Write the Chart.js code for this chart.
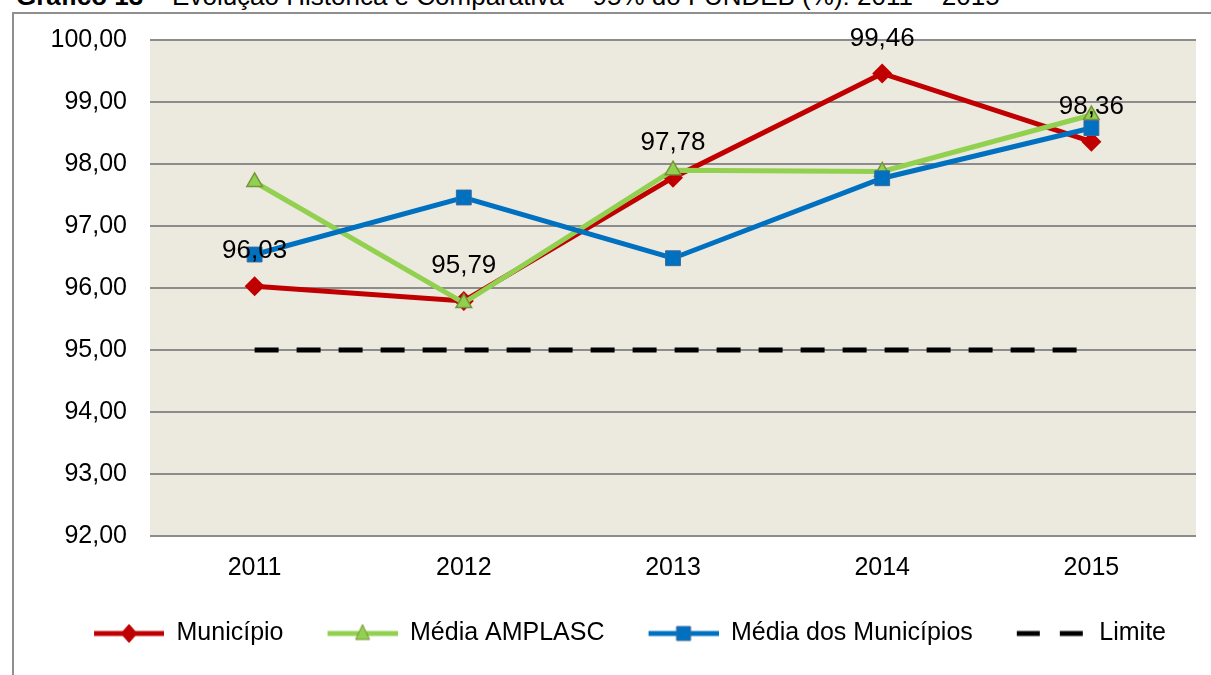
<!DOCTYPE html>
<html lang="pt-BR">
<head>
<meta charset="utf-8">
<title>Evolução Histórica e Comparativa – 95% do FUNDEB</title>
<script src="https://cdn.jsdelivr.net/npm/chart.js@4.4.1/dist/chart.umd.min.js"></script>
<style>
    html, body {
        margin: 0;
        padding: 0;
        background: #ffffff;
        overflow: hidden;
    }
    #page {
        position: relative;
        width: 1211px;
        height: 675px;
        overflow: hidden;
        font-family: "Liberation Sans", Arial, sans-serif;
    }
    #titulo {
        position: absolute;
        left: 16px;
        top: -19px;
        font-size: 26px;
        color: #000;
        white-space: nowrap;
    }
    #titulo b {
        font-weight: bold;
    }
    #moldura {
        position: absolute;
        left: 12px;
        top: 12px;
        width: 1400px;
        height: 900px;
        border: 2px solid #8f8f8f;
    }
    #grafico {
        position: absolute;
        left: 0;
        top: 0;
        width: 1211px;
        height: 675px;
    }
</style>
</head>
<body>
<div id="page">
    <div id="titulo"><b>Gráfico 13</b> – Evolução Histórica e Comparativa – 95% do FUNDEB (%): 2011 – 2015</div>
    <div id="moldura"></div>
    <div id="grafico"><canvas id="fundebChart"></canvas></div>
</div>

<script>
const anos = ["2011", "2012", "2013", "2014", "2015"];
const municipio = [96.03, 95.79, 97.78, 99.46, 98.36];
const mediaAmplasc = [97.71, 95.76, 97.90, 97.88, 98.79];
const mediaMunicipios = [96.54, 97.46, 96.48, 97.77, 98.58];
const limite = [95, 95, 95, 95, 95];
const eixoY = { min: 92, max: 100, passo: 1 };

const fonte = "'Liberation Sans', Arial, sans-serif";
const larguraAmostra = 84;

function formataBR(v) {
    return v.toFixed(2).replace(".", ",");
}

// little line+marker swatches for the legend (blank strip on the left keeps items apart)
function amostraLegenda(cor, marcador, borda, tracejado) {
    const c = document.createElement("canvas");
    c.width = larguraAmostra;
    c.height = 24;
    const g = c.getContext("2d");
    const x0 = larguraAmostra - 70;
    g.strokeStyle = cor;
    g.lineWidth = 5;
    if (tracejado) {
        g.setLineDash([23, 20]);
    }
    g.beginPath();
    g.moveTo(x0, 12);
    g.lineTo(larguraAmostra, 12);
    g.stroke();
    g.setLineDash([]);

    const cx = x0 + 35, cy = 12;
    g.fillStyle = cor;
    g.strokeStyle = borda || cor;
    g.lineWidth = 1;
    g.beginPath();
    if (marcador === "diamante") {
        g.moveTo(cx, cy - 9);
        g.lineTo(cx + 8, cy);
        g.lineTo(cx, cy + 9);
        g.lineTo(cx - 8, cy);
        g.closePath();
    } else if (marcador === "triangulo") {
        g.moveTo(cx, cy - 9);
        g.lineTo(cx + 7, cy + 6);
        g.lineTo(cx - 7, cy + 6);
        g.closePath();
    } else if (marcador === "quadrado") {
        g.rect(cx - 7, cy - 7, 14, 14);
    } else {
        return c;
    }
    g.fill();
    g.stroke();
    return c;
}

const fundoPlotagem = {
    id: "fundoPlotagem",
    beforeDraw(chart) {
        const { ctx, chartArea } = chart;
        ctx.save();
        ctx.fillStyle = "#ECE9DF";
        ctx.fillRect(chartArea.left, chartArea.top, chartArea.right - chartArea.left, chartArea.bottom - chartArea.top);
        ctx.restore();
    }
};

// values written above the Município points
const rotulosValores = {
    id: "rotulosValores",
    afterDatasetsDraw(chart) {
        const meta = chart.getDatasetMeta(0);
        const ctx = chart.ctx;
        ctx.save();
        ctx.font = "26px " + fonte;
        ctx.fillStyle = "#000";
        ctx.textAlign = "center";
        ctx.textBaseline = "middle";
        meta.data.forEach(function (pt, i) {
            ctx.fillText(formataBR(municipio[i]), pt.x, pt.y - 35);
        });
        ctx.restore();
    }
};

const ctx = document.getElementById("fundebChart").getContext("2d");

new Chart(ctx, {
    type: "line",
    data: {
        labels: anos,
        datasets: [{
            label: "Município",
            data: municipio,
            borderColor: "#C00000",
            backgroundColor: "#C00000",
            borderWidth: 5,
            pointStyle: "rectRot",
            pointRadius: 10,
            pointBorderWidth: 0,
            order: 3,
            fill: false,
            tension: 0
        }, {
            label: "Média AMPLASC",
            data: mediaAmplasc,
            borderColor: "#92D050",
            backgroundColor: "#92D050",
            pointBorderColor: "#77933C",
            borderWidth: 5,
            pointStyle: "triangle",
            pointRadius: 9,
            pointBorderWidth: 1.5,
            order: 2,
            fill: false,
            tension: 0
        }, {
            label: "Média dos Municípios",
            data: mediaMunicipios,
            borderColor: "#0070C0",
            backgroundColor: "#0070C0",
            pointBorderColor: "#3A6A9A",
            borderWidth: 5,
            pointStyle: "rect",
            pointRadius: 10.5,
            pointBorderWidth: 1,
            order: 1,
            fill: false,
            tension: 0
        }, {
            label: "Limite",
            data: limite,
            borderColor: "#000000",
            backgroundColor: "#000000",
            borderWidth: 5,
            borderDash: [24, 18],
            pointRadius: 0,
            order: 4,
            fill: false,
            tension: 0
        }]
    },
    options: {
        responsive: true,
        maintainAspectRatio: false,
        animation: false,
        layout: {
            padding: {
                top: 40,
                right: 15,
                bottom: 19,
                left: 50
            }
        },
        plugins: {
            legend: {
                position: "bottom",
                labels: {
                    usePointStyle: true,
                    pointStyleWidth: larguraAmostra,
                    padding: 30,
                    color: "#000",
                    font: {
                        family: fonte,
                        size: 25
                    },
                    generateLabels: function (chart) {
                        const amostras = [
                            amostraLegenda("#C00000", "diamante"),
                            amostraLegenda("#92D050", "triangulo", "#77933C"),
                            amostraLegenda("#0070C0", "quadrado", "#3A6A9A"),
                            amostraLegenda("#000000", null, null, true)
                        ];
                        return chart.data.datasets.map(function (ds, i) {
                            return {
                                text: ds.label,
                                pointStyle: amostras[i],
                                fillStyle: ds.borderColor,
                                strokeStyle: ds.borderColor,
                                lineWidth: 0,
                                hidden: false,
                                datasetIndex: i,
                                fontColor: "#000"
                            };
                        });
                    }
                }
            },
            tooltip: {
                enabled: false
            }
        },
        scales: {
            y: {
                min: eixoY.min,
                max: eixoY.max,
                afterFit: function (scale) {
                    scale.width = 100;
                },
                ticks: {
                    stepSize: eixoY.passo,
                    padding: 23,
                    color: "#000",
                    font: {
                        family: fonte,
                        size: 25
                    },
                    callback: function (value) {
                        return formataBR(value);
                    }
                },
                grid: {
                    color: "#8C8C8C",
                    lineWidth: 2,
                    drawTicks: false
                },
                border: {
                    display: false
                }
            },
            x: {
                offset: true,
                afterFit: function (scale) {
                    scale.height = 55;
                },
                ticks: {
                    padding: 17,
                    color: "#000",
                    font: {
                        family: fonte,
                        size: 25
                    }
                },
                grid: {
                    display: false,
                    drawTicks: false
                },
                border: {
                    display: false
                }
            }
        }
    },
    plugins: [fundoPlotagem, rotulosValores]
});
</script>
</body>
</html>
